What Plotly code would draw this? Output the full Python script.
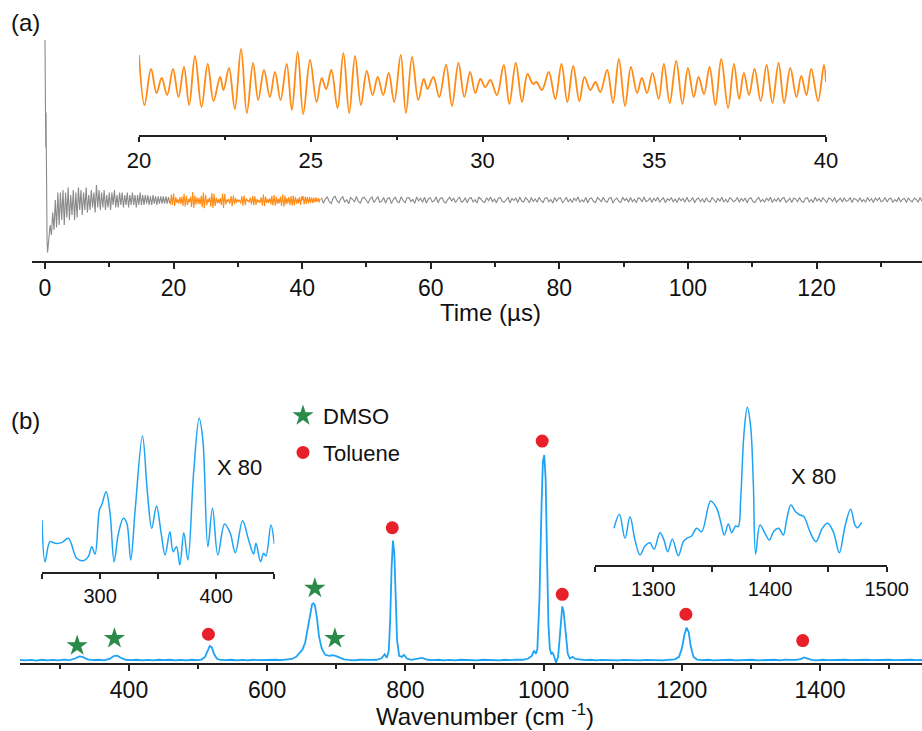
import numpy as np
import plotly.graph_objects as go

# ---------------- Panel (a): time trace ----------------
# spike at t = 0
spike_t = [0.0, 0.04, 0.08, 0.12, 0.16, 0.2, 0.26, 0.32, 0.4, 0.48]
spike_v = [64, 37, 53, 21, 35, 5, -6, -16, -21, -18]

# rising part, sampled 0.6 .. 19.4 us
rise_v = [-15, -10, -14, -5, -12, 0, -11, 3, -10, 3,
          -8, 4, -10, 3, -7, 5, -8, 2, -6, 4,
          -8, 3, -7, 5, -4, 4, -6, 3, -4, 5,
          -5, 2, -4, 4, -3, 3, -5, 6, -3, 4,
          -4, 3, -3, 4, -4, 2, -3, 3, -4, 3,
          -2, 4, -3, 2, -3, 3, -2, 3, -3, 2,
          -2, 3, -3, 2, -2, 3, -2, 2, -3, 2,
          -2, 3, -2, 2, -2, 2, -1.5, 2, -2, 1.5,
          -2, 2, -1.5, 1.5, -2, 1.5, -1.5, 1.5, -1.5, 1.5,
          -1.5, 1.5, -1.5, 1.2, -1.2]
rise_t = np.linspace(0.6, 19.4, len(rise_v))

# oscillation 20 .. 40 us (orange, shown enlarged in the inset)
osc_t = [20.00, 20.16, 20.35, 20.51, 20.66, 20.82, 20.99, 21.15, 21.31, 21.46,
         21.63, 21.82, 22.00, 22.17, 22.36, 22.46, 22.62, 22.79, 22.97, 23.14,
         23.32, 23.47, 23.64, 23.81, 23.96, 24.12, 24.30, 24.45, 24.62, 24.78,
         24.98, 25.17, 25.32, 25.45, 25.60, 25.78, 25.95, 26.12, 26.29, 26.46,
         26.63, 26.80, 26.95, 27.11, 27.27, 27.43, 27.62, 27.77, 27.95, 28.13,
         28.29, 28.40, 28.57, 28.74, 28.94, 29.11, 29.30, 29.47, 29.64, 29.79,
         29.94, 30.08, 30.23, 30.42, 30.62, 30.78, 30.97, 31.15, 31.31, 31.47,
         31.57, 31.73, 31.93, 32.12, 32.30, 32.47, 32.64, 32.82, 32.97, 33.14,
         33.29, 33.43, 33.63, 33.80, 33.97, 34.15, 34.32, 34.50, 34.64, 34.79,
         34.95, 35.13, 35.28, 35.45, 35.64, 35.82, 35.98, 36.15, 36.29, 36.45,
         36.61, 36.78, 36.95, 37.15, 37.32, 37.47, 37.61, 37.76, 37.92, 38.10,
         38.27, 38.44, 38.62, 38.78, 38.96, 39.14, 39.28, 39.43, 39.57, 39.77,
         39.94, 40.00]
osc_v = [2.6, -2.4, 1.2, -1.2, 0.3, -1.4, 1.2, -1.6, 1.4, -2.4,
         2.5, -2.6, 1.7, -2.0, 0.4, -0.9, 1.3, -2.8, 3.2, -3.2,
         1.8, -1.9, 1.1, -1.6, 0.9, -1.9, 1.7, -2.9, 2.9, -3.3,
         2.1, -2.1, 0.3, -0.8, 1.1, -2.7, 2.8, -3.2, 2.5, -2.4,
         1.0, -1.4, 0.4, -1.4, 0.8, -2.1, 2.6, -3.2, 2.4, -1.9,
         0.2, -0.8, 0.4, -1.6, 1.6, -2.5, 1.8, -1.6, 0.9, -1.2,
         0.2, -0.6, 0.1, -1.4, 1.6, -2.3, 1.8, -2.1, 0.7, -0.3,
         -0.1, -0.9, 0.9, -1.8, 1.7, -2.1, 1.5, -2.0, 0.4, -0.9,
         -0.1, -1.1, 1.1, -2.2, 2.2, -2.5, 1.4, -1.2, 0.3, -1.2,
         0.8, -1.8, 1.7, -2.2, 2.0, -2.3, 1.3, -1.6, 0.4, -1.3,
         1.4, -2.4, 2.2, -2.7, 1.7, -1.8, 0.8, -1.4, 1.2, -2.0,
         1.6, -2.2, 1.8, -2.2, 1.3, -1.6, 0.5, -1.4, 1.2, -2.0,
         1.6, -0.1]

head_t = [19.5, 19.65, 19.8]
head_v = [-1.8, 2.2, -2.0]
tail_t = [40.15, 40.3, 40.5, 40.65, 40.8, 41.0, 41.15, 41.3, 41.5, 41.65,
          41.8, 42.0, 42.15, 42.3, 42.5, 42.65, 42.8]
tail_v = [1.5, -1.8, 1.4, -1.6, 1.2, -1.4, 1.3, -1.1, 1.0, -1.3,
          0.9, -1.0, 1.1, -0.8, 0.7, -0.9, 0.4]

# late part 43 .. 136.4 us (small residual noise)
late_v = [0.9, -1.3, 0.4, 1.2, -0.7, -1.4, 0.8, 1.5, -0.3, -1.1, 0.6, 1.3, -0.9, 0.2, -1.5, 1.0, 0.3, -0.8, 1.4, -0.6,
          -1.2, 0.7, 1.1, -0.4, -1.3, 0.5, 1.2, -1.0, 0.1, 1.4, -0.9, -0.5, 1.0, -1.2, 0.6, 0.9, -1.4, 0.3, 1.1, -0.7,
          -1.0, 1.3, -0.2, -1.1, 0.8, 1.0, -0.6, 0.2, -1.3, 1.2, -0.4, 0.7, -0.9, 1.1, -1.2, 0.4, 0.9, -0.8, -0.3, 1.2,
          -1.1, 0.5, 1.0, -0.7, -1.2, 0.3, 1.1, -0.5, 0.8, -1.0, 0.2, 1.2, -0.9, -0.4, 0.9, -1.1, 0.6, 1.0, -0.8, 0.1,
          -1.2, 1.1, 0.4, -0.6, -1.0, 0.9, -0.3, 1.2, -0.8, 0.5, -1.1, 0.7, 1.0, -0.5, -0.9, 0.3, 1.1, -1.2, 0.6, -0.2,
          0.8, -1.0, 1.2, -0.4, -0.8, 0.9, 0.2, -1.1, 1.0, -0.6, 0.4, -0.9, 1.1, -0.3, -1.0, 0.7, 0.9, -0.7, 0.2, -1.2,
          1.0, -0.5, 0.6, 0.9, -1.1, -0.2, 1.1, -0.8, 0.4, -1.0, 0.8, -0.3, 1.2, -0.9, 0.1, -0.7, 1.0, -1.1, 0.5, 0.8,
          -0.6, -1.0, 0.9, 0.3, -0.8, 1.1, -0.4, -0.9, 0.7, 1.0, -1.2, 0.2, 0.8, -0.5, -1.0, 1.1, -0.2, 0.6, -0.9, 1.0,
          -0.7, 0.3, -1.1, 0.9, 0.5, -0.8, 1.2, -0.6, -0.3, 0.9, -1.0, 0.7, -0.4, 1.1, -0.9, 0.2, 0.8, -1.1, 0.5, -0.2,
          1.0, -0.8, 0.4, -1.0, 0.9, -0.3, 0.6, -0.9, 1.1, -0.6, -0.2, 1.0, -1.1, 0.3, 0.8, -0.7, 0.5, -1.0, 0.9, -0.4,
          -0.8, 1.0, 0.2, -0.9, 0.7, -0.5, 1.1, -0.8, 0.3, -1.0, 0.9, 0.4, -0.7, -0.2, 1.0, -0.9, 0.6, -0.4, 0.8, -1.1,
          0.5, 0.9, -0.6, -1.0, 0.3, 1.0, -0.7, 0.2, -0.9, 0.8, -0.3, 1.1, -1.0, 0.4, -0.5, 0.9, -0.8, 0.6, 1.0, -0.9,
          -0.2, 0.7, -1.0, 0.8, 0.3, -0.7, 1.0, -0.5, -0.9, 0.6, 0.9, -0.8, 0.2, -1.0, 1.1, -0.4, 0.5, -0.8, 0.9, -0.3,
          -1.0, 0.8, 0.4, -0.6, 1.0, -0.9, 0.1, 0.7, -0.8, 0.9, -0.5, -0.2, 1.0, -1.0, 0.6, 0.3, -0.7, 0.9, -0.6, 0.2,
          -0.9, 1.0, -0.4, 0.5, -1.0, 0.8, -0.2, 0.9, -0.7, -0.3, 1.0, -0.8, 0.4, 0.7, -0.9, 0.2, -0.6, 1.0, -0.8, 0.3,
          0.6, -1.0, 0.9, -0.3, -0.7, 0.8, 0.2, -0.9, 1.0, -0.5]
late_t = np.linspace(43.0, 136.4, len(late_v))

# ---------------- Panel (b): spectrum ----------------
spec_w = [242, 250, 258, 266, 274, 282, 290, 298, 306, 314,
          322, 328, 333, 340, 348, 356, 364, 372, 378, 383,
          388, 395, 403, 411, 419, 427, 435, 443, 451, 459,
          467, 475, 483, 491, 499, 505, 510, 514, 517, 520,
          523, 527, 532, 540,
          548, 556, 564, 572, 580, 588, 596, 604, 612, 620,
          628, 636, 642, 647, 651, 655, 659, 662, 665, 667,
          669, 672, 675, 679, 684, 690, 695, 700, 705, 711,
          718,
          726, 734, 742, 750, 758, 765, 770, 773, 776, 778,
          780, 782, 784, 786, 788, 791, 795, 798, 802, 808,
          816, 824, 832,
          840, 848, 856, 864, 872, 880, 888, 896, 904, 912,
          920, 928, 936, 944, 952, 960, 970, 978, 983, 986,
          989, 991, 994, 997, 999, 1001, 1003, 1005, 1007, 1009,
          1011, 1013, 1015, 1018, 1021, 1024, 1027, 1029, 1032, 1035,
          1038, 1042, 1046, 1052,
          1060, 1068, 1076, 1084, 1092, 1100, 1108, 1116, 1124, 1132,
          1140, 1148, 1156, 1164, 1172, 1180, 1190, 1196, 1200, 1204,
          1207, 1210, 1213, 1217, 1222, 1230,
          1238, 1246, 1254, 1262, 1270, 1278, 1286, 1294, 1302, 1310,
          1318, 1326, 1334, 1342, 1350, 1358, 1365, 1372, 1377, 1382,
          1388, 1396, 1404, 1412, 1420, 1428, 1436, 1444, 1452, 1460,
          1468, 1476, 1484, 1492, 1500, 1508, 1516, 1524, 1532, 1540,
          1549]
spec_i = [0.6, 0.3, 0.5, 0.2, 0.6, 0.3, 0.5, 0.3, 0.7, 0.4,
          1.2, 2.2, 2.0, 0.8, 0.4, 0.6, 0.3, 1.0, 2.4, 2.6,
          1.6, 0.6, 0.4, 0.6, 0.3, 0.5, 0.3, 0.6, 0.4, 0.6,
          0.3, 0.5, 0.3, 0.6, 0.4, 0.7, 2.0, 5.0, 7.3, 6.5,
          3.5, 1.2, 0.5, 0.4,
          0.6, 0.3, 0.5, 0.3, 0.6, 0.4, 0.5, 0.3, 0.6, 0.4,
          0.6, 1.0, 2.0, 4.0, 5.5, 9.0, 16, 23, 27.5, 28,
          27, 21, 12, 6, 3.0, 2.5, 2.8, 2.4, 1.5, 0.8,
          0.5,
          0.3, 0.6, 0.4, 0.5, 0.6, 1.2, 3.2, 1.5, 5, 20,
          45, 58.5, 52, 30, 10, 2.5, 2.0, 3.0, 1.2, 0.6,
          1.0, 1.5, 0.6,
          0.4, 0.6, 0.3, 0.5, 0.3, 0.6, 0.4, 0.5, 0.3, 0.6,
          0.4, 0.5, 0.3, 0.6, 0.4, 0.7, 0.6, 1.2, 2.5, 5.0,
          3.5, 6, 30, 75, 97, 100, 88, 50, 18, 6,
          3.5, 4.0, 2.5, -0.8, 2, 14, 26.5, 24, 12, 3.5,
          1.2, 2.0, 1.0, 0.6,
          0.4, 0.6, 0.3, 0.5, 0.4, 0.6, 0.3, 0.5, 0.4, 0.6,
          0.3, 0.5, 0.4, 0.6, 0.3, 0.5, 0.8, 2, 6, 13,
          16.2, 14, 7, 2, 0.7, 0.4,
          0.6, 0.3, 0.5, 0.4, 0.6, 0.3, 0.5, 0.4, 0.6, 0.3,
          0.5, 0.4, 0.6, 0.3, 0.7, 0.5, 0.5, 0.9, 1.7, 1.2,
          0.5, 0.3, 0.6, 0.4, 0.5, 0.3, 0.6, 0.4, 0.5, 0.3,
          0.6, 0.4, 0.5, 0.3, 0.6, 0.4, 0.5, 0.3, 0.6, 0.4,
          0.5]

# x80 inset, 250-450 cm-1
ins1_w = [250, 252.6, 256.9, 261.2, 267, 272.7, 279.9, 285.6, 289.9, 292.8,
          295.7, 299.4, 301.4, 305.2, 308.6, 312.1, 315.8, 320.1, 323, 326.4,
          330.2, 336.5, 340.8, 344.5, 348.6, 352.6, 356, 360.1, 362.9, 365.8,
          368.7, 372.1, 375.6, 380.5, 385.3, 388.5, 392.8, 396.8, 401.4, 407.2,
          412.1, 416.4, 422.7, 427.9, 432.2, 434.2, 438.2, 440.8, 442.8, 447.1,
          450]
ins1_i = [83, 16.5, 48.5, 45.9, 47, 54, 21.9, 18.1, 24.5, 40.5,
          28.8, 99.2, 107.2, 128.5, 93.9, 16.5, 61.9, 85.9, 77.9, 19.2,
          99.2, 217.6, 125.9, 69.9, 105.6, 61.9, 27.2, 64.5, 32.5, 40.5,
          11.2, 62.9, 19.2, 157.9, 245.9, 211.2, 40.5, 101.9, 27.2, 76.8,
          61.9, 30.9, 82.1, 51.2, 28.8, 45.9, 16.5, 29.9, 25.6, 75.2,
          44.8]

# x80 inset, 1250-1500 cm-1
ins2_w = [1266.3, 1270.9, 1275.7, 1280, 1284.3, 1288.6, 1292.8, 1297.1, 1300.6, 1305.7,
          1309.1, 1312.3, 1316.3, 1321.4, 1325.7, 1328.6, 1332.8, 1337.1, 1341.4, 1349.1,
          1354.3, 1357.7, 1360.8, 1364.3, 1367.1, 1370.5, 1372.8, 1374.8, 1377.7, 1380.5,
          1383.4, 1385.7, 1387.7, 1391.4, 1395.7, 1399.4, 1403.4, 1407.4, 1411.4, 1414.2,
          1417.9, 1421.9, 1425.7, 1429.1, 1434.2, 1439.4, 1444.8, 1449.4, 1454.2, 1459.4,
          1464.2, 1469.1, 1472.8, 1474.8, 1478.5]
ins2_i = [58.7, 81.1, 42.7, 77.3, 40, 16, 30.4, 35.7, 25.1, 51.7,
          40, 21.3, 41.1, 14.9, 37.3, 42.7, 46.4, 58.7, 53.3, 102.4,
          90.7, 69.3, 48, 65.6, 51.7, 62.4, 61.3, 104, 210.7, 252.3,
          221.3, 130.7, 17.6, 64, 50.7, 40, 54.4, 58.7, 48, 72,
          96, 85.3, 80, 77.3, 53.3, 37.3, 58.7, 66.7, 53.3, 19.7,
          61.3, 89.1, 64, 59.7, 68.3]

# band assignments
dmso_w = [325, 379, 669, 698]
dmso_i = [7.4, 11.0, 35.3, 11.0]
tol_w = [515, 781, 998, 1027, 1206, 1375]
tol_i = [13.0, 64.7, 106.8, 32.4, 22.7, 9.9]

GRAY = '#8a8a8a'
ORANGE = '#ff8a14'
BLUE = '#1fa3f4'
GREEN = '#2a8a4a'
RED = '#e8202a'
AX = '#222222'

fig = go.Figure()
fig.add_trace(go.Scatter(x=spike_t + list(rise_t), y=spike_v + rise_v, mode='lines',
                         line=dict(color=GRAY, width=1.1), xaxis='x', yaxis='y', showlegend=False))
fig.add_trace(go.Scatter(x=list(late_t), y=late_v, mode='lines',
                         line=dict(color=GRAY, width=1.1), xaxis='x', yaxis='y', showlegend=False))
fig.add_trace(go.Scatter(x=head_t + osc_t + tail_t, y=head_v + osc_v + tail_v, mode='lines',
                         line=dict(color=ORANGE, width=1.1), xaxis='x', yaxis='y', showlegend=False))
fig.add_trace(go.Scatter(x=osc_t, y=osc_v, mode='lines', line=dict(color=ORANGE, width=1.8, shape='spline'),
                         xaxis='x2', yaxis='y2', showlegend=False))

fig.add_trace(go.Scatter(x=spec_w, y=spec_i, mode='lines', line=dict(color=BLUE, width=1.8),
                         xaxis='x3', yaxis='y3', showlegend=False))
fig.add_trace(go.Scatter(x=ins1_w, y=ins1_i, mode='lines', line=dict(color=BLUE, width=1.5, shape='spline'),
                         xaxis='x4', yaxis='y4', showlegend=False))
fig.add_trace(go.Scatter(x=ins2_w, y=ins2_i, mode='lines', line=dict(color=BLUE, width=1.5, shape='spline'),
                         xaxis='x5', yaxis='y5', showlegend=False))
fig.add_trace(go.Scatter(x=dmso_w, y=dmso_i, mode='markers', name='DMSO', legendgroup='d',
                         marker=dict(symbol='star', size=16, color=GREEN, line=dict(width=0)),
                         xaxis='x3', yaxis='y3', cliponaxis=False))
fig.add_trace(go.Scatter(x=tol_w, y=tol_i, mode='markers', name='Toluene', legendgroup='t',
                         marker=dict(symbol='circle', size=13, color=RED, line=dict(width=0)),
                         xaxis='x3', yaxis='y3', cliponaxis=False))

W, H = 922, 731
def px(a, b):
    return [a / W, b / W]
def py(top, bottom):
    return [1 - bottom / H, 1 - top / H]

axis_common = dict(showline=True, linecolor=AX, linewidth=1.5, ticks='outside', tickcolor=AX,
                   tickwidth=1.5, showgrid=False, zeroline=False, automargin=False,
                   tickfont=dict(size=23, color='#111'))
yhidden = dict(visible=False, showgrid=False, zeroline=False, automargin=False)

def label(text, x, y, size):
    return dict(text=text, x=x / W, y=1 - y / H, xref='paper', yref='paper', showarrow=False,
                font=dict(size=size), xanchor='center', yanchor='middle')

fig.update_layout(
    width=W, height=H, margin=dict(l=0, r=0, t=0, b=0),
    paper_bgcolor='white', plot_bgcolor='white',
    font=dict(family='Arial, "Liberation Sans", sans-serif', size=22, color='#111'),
    xaxis=dict(axis_common, domain=px(32, 922), range=[-2.02, 136.4], anchor='y',
               tick0=0, dtick=20, ticklen=6,
               minor=dict(dtick=10, ticklen=4, ticks='outside', tickcolor=AX, tickwidth=1.5)),
    yaxis=dict(yhidden, domain=py(30, 261), range=[-24.4, 68], anchor='x'),
    xaxis2=dict(axis_common, domain=px(139, 826), range=[20, 40], anchor='y2',
                tick0=20, dtick=5, ticklen=5, tickfont=dict(size=22, color='#111'),
                minor=dict(dtick=2.5, ticklen=3, ticks='outside', tickcolor=AX, tickwidth=1.5)),
    yaxis2=dict(yhidden, domain=py(40, 135), range=[-5.4, 4.1], anchor='x2'),
    xaxis3=dict(axis_common, domain=px(20, 922), range=[242.3, 1547.6], anchor='y3',
                tick0=0, dtick=200, ticklen=6,
                minor=dict(dtick=100, ticklen=4, ticks='outside', tickcolor=AX, tickwidth=1.5)),
    yaxis3=dict(yhidden, domain=py(390, 663), range=[-0.97, 131.6], anchor='x3'),
    xaxis4=dict(axis_common, domain=px(42, 274.3), range=[250, 450], anchor='y4',
                tickvals=[300, 400], ticklen=5, tickfont=dict(size=20, color='#111'),
                minor=dict(dtick=50, ticklen=5, ticks='outside', tickcolor=AX, tickwidth=1.5)),
    yaxis4=dict(yhidden, domain=py(400, 572), range=[0, 275.2], anchor='x4'),
    xaxis5=dict(axis_common, domain=px(595, 886.7), range=[1250, 1500], anchor='y5',
                tick0=0, dtick=100, ticklen=5, tickfont=dict(size=20, color='#111'),
                minor=dict(dtick=50, ticklen=5, ticks='outside', tickcolor=AX, tickwidth=1.5)),
    yaxis5=dict(yhidden, domain=py(400, 565), range=[0, 264], anchor='x5'),
    legend=dict(x=283 / W, y=1 - 395 / H, xanchor='left', yanchor='top', bgcolor='rgba(0,0,0,0)',
                font=dict(size=22), tracegroupgap=5, itemsizing='trace'),
    annotations=[
        label('Time (µs)', 490, 312, 24),
        label('Wavenumber (cm <sup>-1</sup>)', 485, 715, 24),
        label('(a)', 25, 22, 24),
        label('(b)', 25, 420, 24),
        label('X 80', 240, 467, 22),
        label('X 80', 813, 476, 22),
    ],
)

fig.write_html('out.html', config={'displayModeBar': False},
               post_script="document.body.style.margin='0px';")
